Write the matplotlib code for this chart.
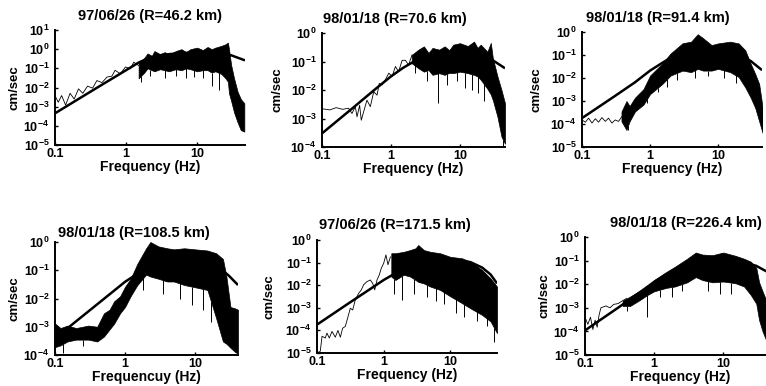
import numpy as np
import matplotlib
matplotlib.use("Agg")
import matplotlib.pyplot as plt
from matplotlib.ticker import NullLocator, FixedLocator, FixedFormatter

plt.rcParams['font.family'] = ['Liberation Sans', 'DejaVu Sans']
plt.rcParams['mathtext.fontset'] = 'custom'
plt.rcParams['mathtext.rm'] = 'Liberation Sans'
plt.rcParams['mathtext.bf'] = 'Liberation Sans:bold'

titles = ["97/06/26 (R=46.2 km)", "98/01/18 (R=70.6 km)", "98/01/18 (R=91.4 km)",
          "98/01/18 (R=108.5 km)", "97/06/26 (R=171.5 km)", "98/01/18 (R=226.4 km)"]
xlabels = ["Frequency (Hz)", "Frequency (Hz)", "Frequency (Hz)",
           "Frequencuy (Hz)", "Frequency (Hz)", "Frequency (Hz)"]
ydecades = [(-5, 1), (-4, 0), (-5, 0), (-4, 0), (-5, 0), (-5, 0)]
xmax = [47, 45, 44, 41, 50, 56]
xticks = [0.1, 1, 10]
xticklabels = ["0.1", "1", "10"]

# panel 1
p1_model_f = [0.1, 0.3, 0.5, 1, 1.5, 2, 3, 5, 10, 20, 30, 47]
p1_model_a = [4.5e-4, 5.4e-3, 0.017, 0.08, 0.2, 0.32, 0.48, 0.6, 0.68, 0.62, 0.48, 0.26]
p1_thin_f = [0.1, 0.111, 0.124, 0.141, 0.163, 0.186, 0.214, 0.246, 0.287, 0.338, 0.388,
             0.457, 0.54, 0.63, 0.7, 0.83, 0.98, 1.15, 1.28, 1.5]
p1_thin_a = [3.8e-3, 1.7e-3, 3.8e-3, 1.2e-3, 5e-3, 2.5e-3, 8.5e-3, 5e-3, 0.0118, 9.3e-3, 0.023,
             0.018, 0.035, 0.039, 0.079, 0.052, 0.118, 0.095, 0.21, 0.14]
p1_band_f = [1.5, 1.8, 2.0, 2.3, 2.5, 3, 3.5, 4, 5, 6, 7, 8, 10, 12, 14, 16, 18, 22, 25, 27,
             28, 30, 33, 37, 41, 46]
p1_band_top = [0.18, 0.35, 0.6, 0.45, 0.8, 0.55, 0.7, 0.5, 0.8, 1.0, 0.7, 1.0, 1.2, 0.9, 1.3,
               1.0, 1.2, 1.5, 1.8, 2.2, 1.0, 0.15, 0.03, 6e-3, 2.5e-3, 1.5e-3]
p1_band_bot = [0.03, 0.06, 0.1, 0.08, 0.07, 0.09, 0.08, 0.07, 0.09, 0.08, 0.1, 0.09, 0.07,
               0.08, 0.08, 0.06, 0.07, 0.05, 0.03, 0.02, 5e-3, 2e-3, 5e-4, 1.5e-4, 6e-5, 5e-5]
p1_spike_f = [1.6, 2.2, 3.5, 5, 7, 9, 12, 16, 20]
p1_spike_a = [0.02, 0.04, 0.03, 0.04, 0.03, 0.035, 0.03, 0.012, 7e-3]

# panel 2
p2_model_f = [0.1, 0.3, 0.6, 1, 1.5, 2, 3, 5, 10, 15, 20, 30, 45]
p2_model_a = [3e-4, 2.7e-3, 0.011, 0.03, 0.06, 0.09, 0.14, 0.19, 0.22, 0.2, 0.17, 0.11, 0.058]
p2_thin_f = [0.1, 0.13, 0.16, 0.2, 0.243, 0.272, 0.304, 0.322, 0.351, 0.371, 0.401, 0.448,
             0.502, 0.562, 0.628, 0.676, 0.74, 0.83, 0.93, 1.04, 1.16, 1.29, 1.45, 1.62,
             1.8, 2.02]
p2_thin_a = [2.2e-3, 2.0e-3, 2.4e-3, 2.1e-3, 2.3e-3, 1.5e-3, 2.6e-3, 1.15e-3, 2.9e-3, 8.7e-4,
             1.7e-3, 4.4e-3, 2.6e-3, 8.7e-3, 6.6e-3, 0.017, 0.015, 0.023, 0.039, 0.03, 0.067,
             0.044, 0.11, 0.11, 0.076, 0.17]
p2_band_f = [2, 2.5, 3, 3.5, 4, 5, 6, 7, 8, 10, 13, 16, 18, 20, 25, 28, 30, 35, 40, 45]
p2_band_top = [0.17, 0.26, 0.34, 0.2, 0.3, 0.26, 0.34, 0.25, 0.39, 0.44, 0.35, 0.5, 0.3, 0.39,
               0.22, 0.45, 0.13, 0.03, 0.01, 3.4e-3]
p2_band_bot = [0.087, 0.058, 0.044, 0.05, 0.034, 0.039, 0.034, 0.04, 0.039, 0.044, 0.039,
               0.034, 0.03, 0.023, 0.011, 7e-3, 4.4e-3, 1.15e-3, 2.3e-4, 1.3e-4]
p2_spike_f = [2.2, 3.3, 4.8, 6.5, 9, 12, 15, 18, 22, 42]
p2_spike_a = [0.04, 0.02, 3.5e-3, 0.015, 0.02, 0.012, 0.01, 0.008, 0.004, 1e-4]

# panel 3
p3_model_f = [0.1, 0.3, 0.6, 1, 1.5, 2, 3, 5, 10, 15, 20, 25, 30, 44]
p3_model_a = [1.8e-4, 1.6e-3, 6.5e-3, 0.021, 0.045, 0.075, 0.12, 0.16, 0.175, 0.14, 0.1,
              0.075, 0.055, 0.022]
p3_thin_f = [0.1, 0.112, 0.125, 0.14, 0.157, 0.175, 0.196, 0.22, 0.245, 0.275, 0.307, 0.344,
             0.385]
p3_thin_a = [1.5e-4, 1.2e-4, 1.8e-4, 1.1e-4, 1.7e-4, 1.2e-4, 1.9e-4, 1.3e-4, 1.8e-4, 1.1e-4,
             1.5e-4, 1.3e-4, 2.1e-4]
p3_band_f = [0.38, 0.45, 0.5, 0.6, 0.8, 1, 1.5, 2, 3, 4, 5, 6, 8, 10, 15, 20, 25, 30, 35,
             40, 45]
p3_band_top = [3.5e-4, 1e-3, 6e-4, 1.4e-3, 3.3e-3, 0.0128, 0.042, 0.117, 0.325, 0.38, 0.8,
               0.54, 0.27, 0.32, 0.38, 0.32, 0.16, 0.042, 0.015, 5.5e-3, 5e-4]
p3_band_bot = [1.3e-4, 5.5e-5, 1.3e-4, 3.5e-4, 7e-4, 2e-3, 5.4e-3, 0.0128, 0.021, 0.018,
               0.025, 0.021, 0.021, 0.025, 0.018, 0.011, 3.9e-3, 1.4e-3, 5e-4, 1.3e-4, 4e-5]
p3_spike_f = [0.47, 0.9, 1.3, 1.8, 2.5, 4.5, 7, 12, 18]
p3_spike_a = [5.5e-5, 8e-4, 2.5e-3, 4e-3, 8e-3, 0.01, 0.012, 0.01, 0.006]

# panel 4
p4_model_f = [0.1, 0.3, 0.6, 1, 1.5, 2, 3, 5, 8, 12, 20, 30, 41]
p4_model_a = [3.9e-4, 3.5e-3, 0.014, 0.039, 0.075, 0.11, 0.18, 0.26, 0.28, 0.24, 0.15, 0.066,
              0.03]
p4_thin_f = []
p4_thin_a = []
p4_band_f = [0.1, 0.12, 0.15, 0.2, 0.3, 0.4, 0.5, 0.6, 0.7, 0.85, 1, 1.2, 1.5, 2, 2.3, 3, 4,
             5, 7, 10, 15, 20, 25, 28, 32, 37, 41]
p4_band_top = [1.3e-3, 9e-4, 1.1e-3, 9e-4, 1.1e-3, 1e-3, 3e-3, 4e-3, 8e-3, 0.012, 0.026, 0.05,
               0.17, 0.6, 1.0, 0.7, 0.6, 0.55, 0.6, 0.55, 0.5, 0.4, 0.25, 0.06, 5e-3, 4.5e-3,
               4e-3]
p4_band_bot = [1.9e-4, 2.2e-4, 3e-4, 3.5e-4, 3.5e-4, 3e-4, 4.5e-4, 8e-4, 1.3e-3, 3e-3, 5e-3,
               0.012, 0.03, 0.07, 0.06, 0.05, 0.04, 0.04, 0.03, 0.025, 0.02, 2e-3, 3e-4, 2.5e-4,
               1.8e-4, 1.3e-4, 1.1e-4]
p4_spike_f = [0.13, 0.25, 1.8, 3.5, 6, 9, 13, 17]
p4_spike_a = [1.2e-4, 2e-4, 0.02, 0.015, 0.01, 6e-3, 4e-3, 1.5e-3]

# panel 5
p5_model_f = [0.1, 0.3, 0.6, 1, 1.5, 2, 3, 5, 8, 12, 20, 30, 40, 50]
p5_model_a = [1.8e-4, 1.6e-3, 6.2e-3, 0.017, 0.034, 0.05, 0.08, 0.11, 0.125, 0.125, 0.105,
              0.06, 0.03, 0.012]
p5_thin_f = [0.102, 0.112, 0.119, 0.133, 0.141, 0.153, 0.168, 0.188, 0.206, 0.224, 0.242,
             0.266, 0.292, 0.316, 0.343, 0.376, 0.422, 0.462, 0.5, 0.562, 0.631, 0.684, 0.733,
             0.794, 0.86, 0.92, 1.0, 1.08, 1.16, 1.26]
p5_thin_a = [1e-5, 1.2e-5, 5.5e-5, 4.6e-5, 7.6e-5, 4.6e-5, 9e-5, 5e-5, 1e-4, 5e-5, 1.25e-4,
             1.5e-4, 4.1e-4, 9.5e-4, 8e-4, 2.3e-3, 4.4e-3, 6.2e-3, 0.0104, 0.0145, 0.017, 0.012,
             6.2e-3, 0.017, 0.029, 0.056, 0.094, 0.22, 0.08, 0.18]
p5_band_f = [1.3, 1.5, 2, 2.5, 3, 3.3, 4, 5, 7, 10, 15, 20, 30, 40, 50]
p5_band_top = [0.26, 0.26, 0.3, 0.36, 0.43, 0.6, 0.36, 0.3, 0.26, 0.18, 0.155, 0.11, 0.047,
               0.02, 8.7e-3]
p5_band_bot = [0.024, 0.017, 0.029, 0.024, 0.017, 0.014, 0.012, 8.7e-3, 6.2e-3, 3.2e-3,
               1.6e-3, 9.5e-4, 4.8e-4, 2.5e-4, 7.6e-5]
p5_spike_f = [1.45, 1.9, 2.8, 4.5, 6, 8, 12, 16, 25, 35, 45]
p5_spike_a = [4e-3, 2.2e-3, 4e-3, 3e-3, 2e-3, 1.5e-3, 6e-4, 4e-4, 2.5e-4, 1.5e-4, 3e-5]

# panel 6
p6_model_f = [0.1, 0.3, 0.6, 1, 1.5, 2, 3, 5, 8, 12, 20, 30, 42]
p6_model_a = [1.1e-4, 1e-3, 4.2e-3, 0.0125, 0.026, 0.04, 0.065, 0.09, 0.1, 0.1, 0.085, 0.06,
              0.035]
p6_thin_f = [0.1, 0.11, 0.12, 0.13, 0.14, 0.15, 0.16, 0.17, 0.2, 0.23, 0.26, 0.3, 0.35, 0.4]
p6_thin_a = [4e-4, 2e-4, 4e-4, 1.2e-4, 3e-4, 1.5e-4, 5e-4, 1e-3, 1.2e-3, 1e-3, 1.4e-3, 1.5e-3,
             2e-3, 2.5e-3]
p6_band_f = [0.35, 0.45, 0.6, 0.8, 1, 1.5, 2, 3, 4, 5, 7, 10, 15, 20, 25, 30, 33, 37, 42]
p6_band_top = [2e-3, 3e-3, 5e-3, 8e-3, 0.015, 0.033, 0.055, 0.12, 0.22, 0.18, 0.17, 0.22,
               0.16, 0.12, 0.09, 0.05, 0.012, 5e-3, 2e-3]
p6_band_bot = [1.2e-3, 1.2e-3, 2e-3, 3.5e-3, 5e-3, 7e-3, 8e-3, 0.012, 0.02, 0.015, 0.012,
               0.013, 0.011, 0.008, 3.5e-3, 1.5e-3, 3e-4, 1e-4, 4e-5]
p6_spike_f = [0.4, 0.78, 1.2, 1.8, 2.5, 6, 9, 13]
p6_spike_a = [7e-4, 4e-4, 3e-3, 3e-3, 5e-3, 5e-3, 4e-3, 4e-3]

panels = [
    (p1_model_f, p1_model_a, p1_thin_f, p1_thin_a, p1_band_f, p1_band_top, p1_band_bot, p1_spike_f, p1_spike_a),
    (p2_model_f, p2_model_a, p2_thin_f, p2_thin_a, p2_band_f, p2_band_top, p2_band_bot, p2_spike_f, p2_spike_a),
    (p3_model_f, p3_model_a, p3_thin_f, p3_thin_a, p3_band_f, p3_band_top, p3_band_bot, p3_spike_f, p3_spike_a),
    (p4_model_f, p4_model_a, p4_thin_f, p4_thin_a, p4_band_f, p4_band_top, p4_band_bot, p4_spike_f, p4_spike_a),
    (p5_model_f, p5_model_a, p5_thin_f, p5_thin_a, p5_band_f, p5_band_top, p5_band_bot, p5_spike_f, p5_spike_a),
    (p6_model_f, p6_model_a, p6_thin_f, p6_thin_a, p6_band_f, p6_band_top, p6_band_bot, p6_spike_f, p6_spike_a),
]

# axes boxes in pixels: left, top, right, bottom
boxes = [(55, 30, 245, 145), (322, 33, 505, 147), (582, 32, 762, 147),
         (55, 242, 238, 355), (317, 240, 497, 353), (585, 237, 775, 355)]
title_x = [0.5, 0.40, 0.42, 0.43, 0.43, 0.53]
title_pad = [7, 7, 7, 3.5, 8, 7]
ylabel_x = [-0.184, -0.213, -0.217, -0.191, -0.233, -0.184]

W, H = 766, 386
fig = plt.figure(figsize=(W / 100, H / 100), dpi=100)

for i, (mf, ma, tf, ta, bf, bt, bb, sf, sa) in enumerate(panels):
    l, t, r, b = boxes[i]
    ax = fig.add_axes([l / W, 1 - b / H, (r - l) / W, (b - t) / H])
    ax.set_xscale('log')
    ax.set_yscale('log')

    ax.fill_between(bf, bb, bt, color='black', lw=0.5)
    if len(sf):
        lo = np.interp(np.log10(sf), np.log10(bf), np.log10(bb))
        ax.vlines(sf, sa, 10 ** lo, color='black', lw=0.7)
    if len(tf):
        ax.plot(tf, ta, color='black', lw=0.6)
    ax.plot(mf, ma, color='black', lw=1.8, solid_capstyle='butt')

    d0, d1 = ydecades[i]
    ax.set_xlim(0.1, xmax[i])
    ax.set_ylim(10.0 ** d0, 10.0 ** d1)
    ax.xaxis.set_major_locator(FixedLocator(xticks))
    ax.xaxis.set_major_formatter(FixedFormatter(xticklabels))
    ax.xaxis.set_minor_locator(NullLocator())
    ydec = list(range(d0, d1 + 1))
    ax.yaxis.set_major_locator(FixedLocator([10.0 ** d for d in ydec]))
    ax.yaxis.set_major_formatter(FixedFormatter([r'$\mathbf{10^{%d}}$' % d for d in ydec]))
    ax.yaxis.set_minor_locator(NullLocator())

    for s in ['top', 'right']:
        ax.spines[s].set_visible(False)
    for s in ['left', 'bottom']:
        ax.spines[s].set_linewidth(1.4)
    ax.tick_params(direction='in', length=2, width=1, labelsize=9)
    ax.tick_params(axis='y', pad=4)
    ax.tick_params(axis='x', pad=2.5)
    for lab in ax.get_xticklabels():
        lab.set_fontweight('bold')

    ax.set_title(titles[i], fontsize=10.5, fontweight='bold', x=title_x[i], pad=title_pad[i])
    ax.set_xlabel(xlabels[i], fontsize=10, fontweight='bold', labelpad=0)
    ax.set_ylabel('cm/sec', fontsize=9.5, fontweight='bold')
    ax.yaxis.set_label_coords(ylabel_x[i], 0.5)

fig.savefig('out.png', dpi=100)
